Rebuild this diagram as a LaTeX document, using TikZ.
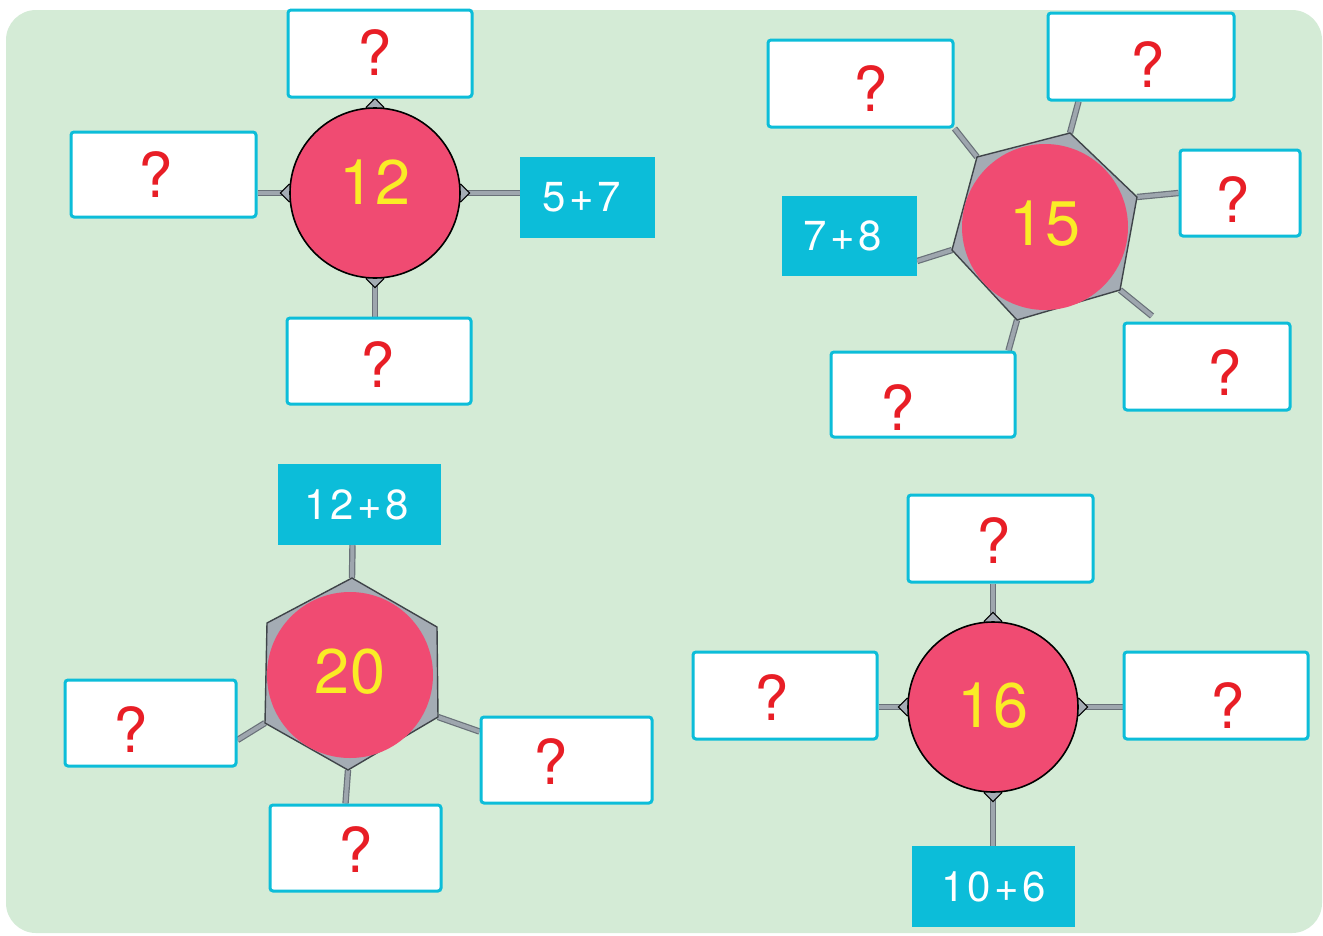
\documentclass[tikz,border=0pt]{standalone}
\usepackage{fontspec}
\setmainfont{TeX Gyre Heros}
\newfontfamily\sumfont{TeX Gyre Heros}[LetterSpace=8]
\usepackage{xcolor}
\definecolor{pagegreen}{RGB}{212,235,214}
\definecolor{boxcyan}{RGB}{12,189,217}
\definecolor{ballpink}{RGB}{240,75,114}
\definecolor{numyellow}{RGB}{250,236,38}
\definecolor{qred}{RGB}{232,30,38}
\definecolor{tubedark}{RGB}{105,113,121}
\definecolor{tubelight}{RGB}{158,166,174}
\definecolor{plategray}{RGB}{164,172,180}
\usetikzlibrary{shapes.geometric,calc}
\pgfdeclarelayer{paper}
\pgfdeclarelayer{under}
\pgfsetlayers{paper,under,main}
\tikzset{
  wh/.style 2 args={minimum width=#1pt,minimum height=#2pt},
  qbox/.style={rectangle,rounded corners=3pt,
    draw=boxcyan,fill=white,line width=3pt,inner sep=0pt},
  sumbox/.style={rectangle,fill=boxcyan,text=white,inner sep=0pt,
    font=\sumfont\fontsize{42}{42}\selectfont},
  qmark/.style={text=qred,inner sep=0pt,
    font=\fontsize{62}{62}\selectfont},
  ball/.style={circle,fill=ballpink,text=numyellow,
    minimum size=170pt,inner sep=0pt,
    font=\fontsize{63}{63}\selectfont},
  rimball/.style={ball,draw=black,line width=1.6pt},
  rivet/.style={diamond,draw=black,fill=plategray,line width=1pt,
    minimum size=18pt,inner sep=0pt},
  tube/.style={draw=tubedark,line width=1.2pt,
    double=tubelight,double distance=4pt},
  plate/.style={fill=plategray,draw=tubedark!60!black,
    line width=1.4pt,line join=round},
}

\begin{document}
\begin{tikzpicture}[x=1pt,y=-1pt]

  \useasboundingbox (0,0) rectangle (1323,935);
  \begin{pgfonlayer}{paper}
    \fill[pagegreen,rounded corners=30pt] (6,10) rectangle (1322,933);
  \end{pgfonlayer}

  % ---- 12 ----
  \node (c1) [rimball,text depth=22pt] at (375,193) {12};
  \node (b1t) [qbox,wh={184}{87}] at (380,53.5) {};
  \node (b1l) [qbox,wh={185}{85}] at (163.5,174.5) {};
  \node (b1r) [sumbox,wh={135}{81}] at (587.5,197.5) {5+7\hspace*{12pt}};
  \node (b1b) [qbox,wh={184}{86}] at (379,361) {};
  \node (q1t) [qmark] at ($(b1t)+(-5,-1)$) {?};
  \node (q1l) [qmark] at ($(b1l)+(-8,0)$) {?};
  \node (q1b) [qmark] at ($(b1b)+(-1,4)$) {?};

  \begin{pgfonlayer}{under}
    \draw[tube] (c1.north) -- (c1.north |- b1t.south);
    \draw[tube] (c1.west) -- (c1.west -| b1l.east);
    \draw[tube] (c1.east) -- (c1.east -| b1r.west);
    \draw[tube] (c1.south) -- (c1.south |- b1b.north);
    \foreach \a in {north,east,south,west}
      \node (r1\a) [rivet] at (c1.\a) {};
  \end{pgfonlayer}

  % ---- 15 ----
  \coordinate (h2a) at (977,157);
  \coordinate (h2b) at (1070,133);
  \coordinate (h2c) at (1137,197);
  \coordinate (h2d) at (1120,290);
  \coordinate (h2e) at (1017,320);
  \coordinate (h2f) at (952,250);
  \coordinate (t2end) at (1152,316);

  \node (c2) [ball,minimum size=166pt,text depth=8pt] at (1045,227) {15};
  \node (b2ul) [qbox,wh={185}{87}] at (860.5,83.5) {};
  \node (b2tr) [qbox,wh={186}{87}] at (1141,56.5) {};
  \node (b2r) [qbox,wh={120}{86}] at (1240,193) {};
  \node (b2br) [qbox,wh={166}{87}] at (1207,366.5) {};
  \node (b2b) [qbox,wh={184}{85}] at (923,394.5) {};
  \node (b2l) [sumbox,wh={135}{80}] at (849.5,236) {7+8\hspace*{14pt}};
  \node (q2ul) [qmark] at ($(b2ul)+(10,5)$) {?};
  \node (q2tr) [qmark] at ($(b2tr)+(7,8)$) {?};
  \node (q2r) [qmark] at ($(b2r)+(-7,7)$) {?};
  \node (q2br) [qmark] at ($(b2br)+(18,6)$) {?};
  \node (q2b) [qmark] at ($(b2b)+(-25,13)$) {?};

  \begin{pgfonlayer}{under}
    \draw[tube] (h2a) -- (b2ul.south east);
    \draw[tube] (h2b) -- ($(b2tr.south west)+(32,0)$);
    \draw[tube] (h2c) -- (b2r.west);
    \draw[tube] (h2d) -- (t2end);
    \draw[tube] (h2e) -- ($(b2b.north east)+(-8,0)$);
    \draw[tube] (h2f) -- ($(b2l.east)+(0,25)$);
    \path[plate] (h2a) -- (h2b) -- (h2c) -- (h2d) -- (h2e) -- (h2f) -- cycle;
  \end{pgfonlayer}

  % ---- 20 ----
  \coordinate (h3a) at (352,578);
  \coordinate (h3b) at (437,627);
  \coordinate (h3c) at (438,717);
  \coordinate (h3d) at (348,770);
  \coordinate (h3e) at (265,723);
  \coordinate (h3f) at (267,623);

  \node (c3) [ball,minimum size=166pt,text depth=8pt] at (350,675) {20};
  \node (b3t) [sumbox,wh={163}{81}] at (359.5,504.5) {12+8\hspace*{6pt}};
  \node (b3l) [qbox,wh={171}{86}] at (150.5,723) {};
  \node (b3r) [qbox,wh={171}{86}] at (566.5,760) {};
  \node (b3b) [qbox,wh={171}{86}] at (355.5,848) {};
  \node (q3l) [qmark] at ($(b3l)+(-20,7)$) {?};
  \node (q3r) [qmark] at ($(b3r)+(-16,2)$) {?};
  \node (q3b) [qmark] at ($(b3b)+(0,2)$) {?};

  \begin{pgfonlayer}{under}
    \draw[tube] (h3a) -- ($(b3t.south)+(-7,0)$);
    \draw[tube] (h3e) -- ($(b3l.east)+(0,17)$);
    \draw[tube] (h3c) -- ($(b3r.north west)+(0,16)$);
    \draw[tube] (h3d) -- ($(b3b.north)+(-10,0)$);
    \path[plate] (h3a) -- (h3b) -- (h3c) -- (h3d) -- (h3e) -- (h3f) -- cycle;
  \end{pgfonlayer}

  % ---- 16 ----
  \node (c4) [rimball,text depth=4pt] at (993,707) {16};
  \node (b4t) [qbox,wh={185}{87}] at (1000.5,538.5) {};
  \node (b4l) [qbox,wh={184}{87}] at (785,695.5) {};
  \node (b4r) [qbox,wh={184}{87}] at (1216,695.5) {};
  \node (b4b) [sumbox,wh={163}{81}] at (993.5,886.5) {10+6};
  \node (q4t) [qmark] at ($(b4t)+(-7,2)$) {?};
  \node (q4l) [qmark] at ($(b4l)+(-13,2)$) {?};
  \node (q4r) [qmark] at ($(b4r)+(12,10)$) {?};

  \begin{pgfonlayer}{under}
    \draw[tube] (c4.north) -- (c4.north |- b4t.south);
    \draw[tube] (c4.west) -- (c4.west -| b4l.east);
    \draw[tube] (c4.east) -- (c4.east -| b4r.west);
    \draw[tube] (c4.south) -- (c4.south |- b4b.north);
    \foreach \a in {north,east,south,west}
      \node (r4\a) [rivet] at (c4.\a) {};
  \end{pgfonlayer}

\end{tikzpicture}
\end{document}
